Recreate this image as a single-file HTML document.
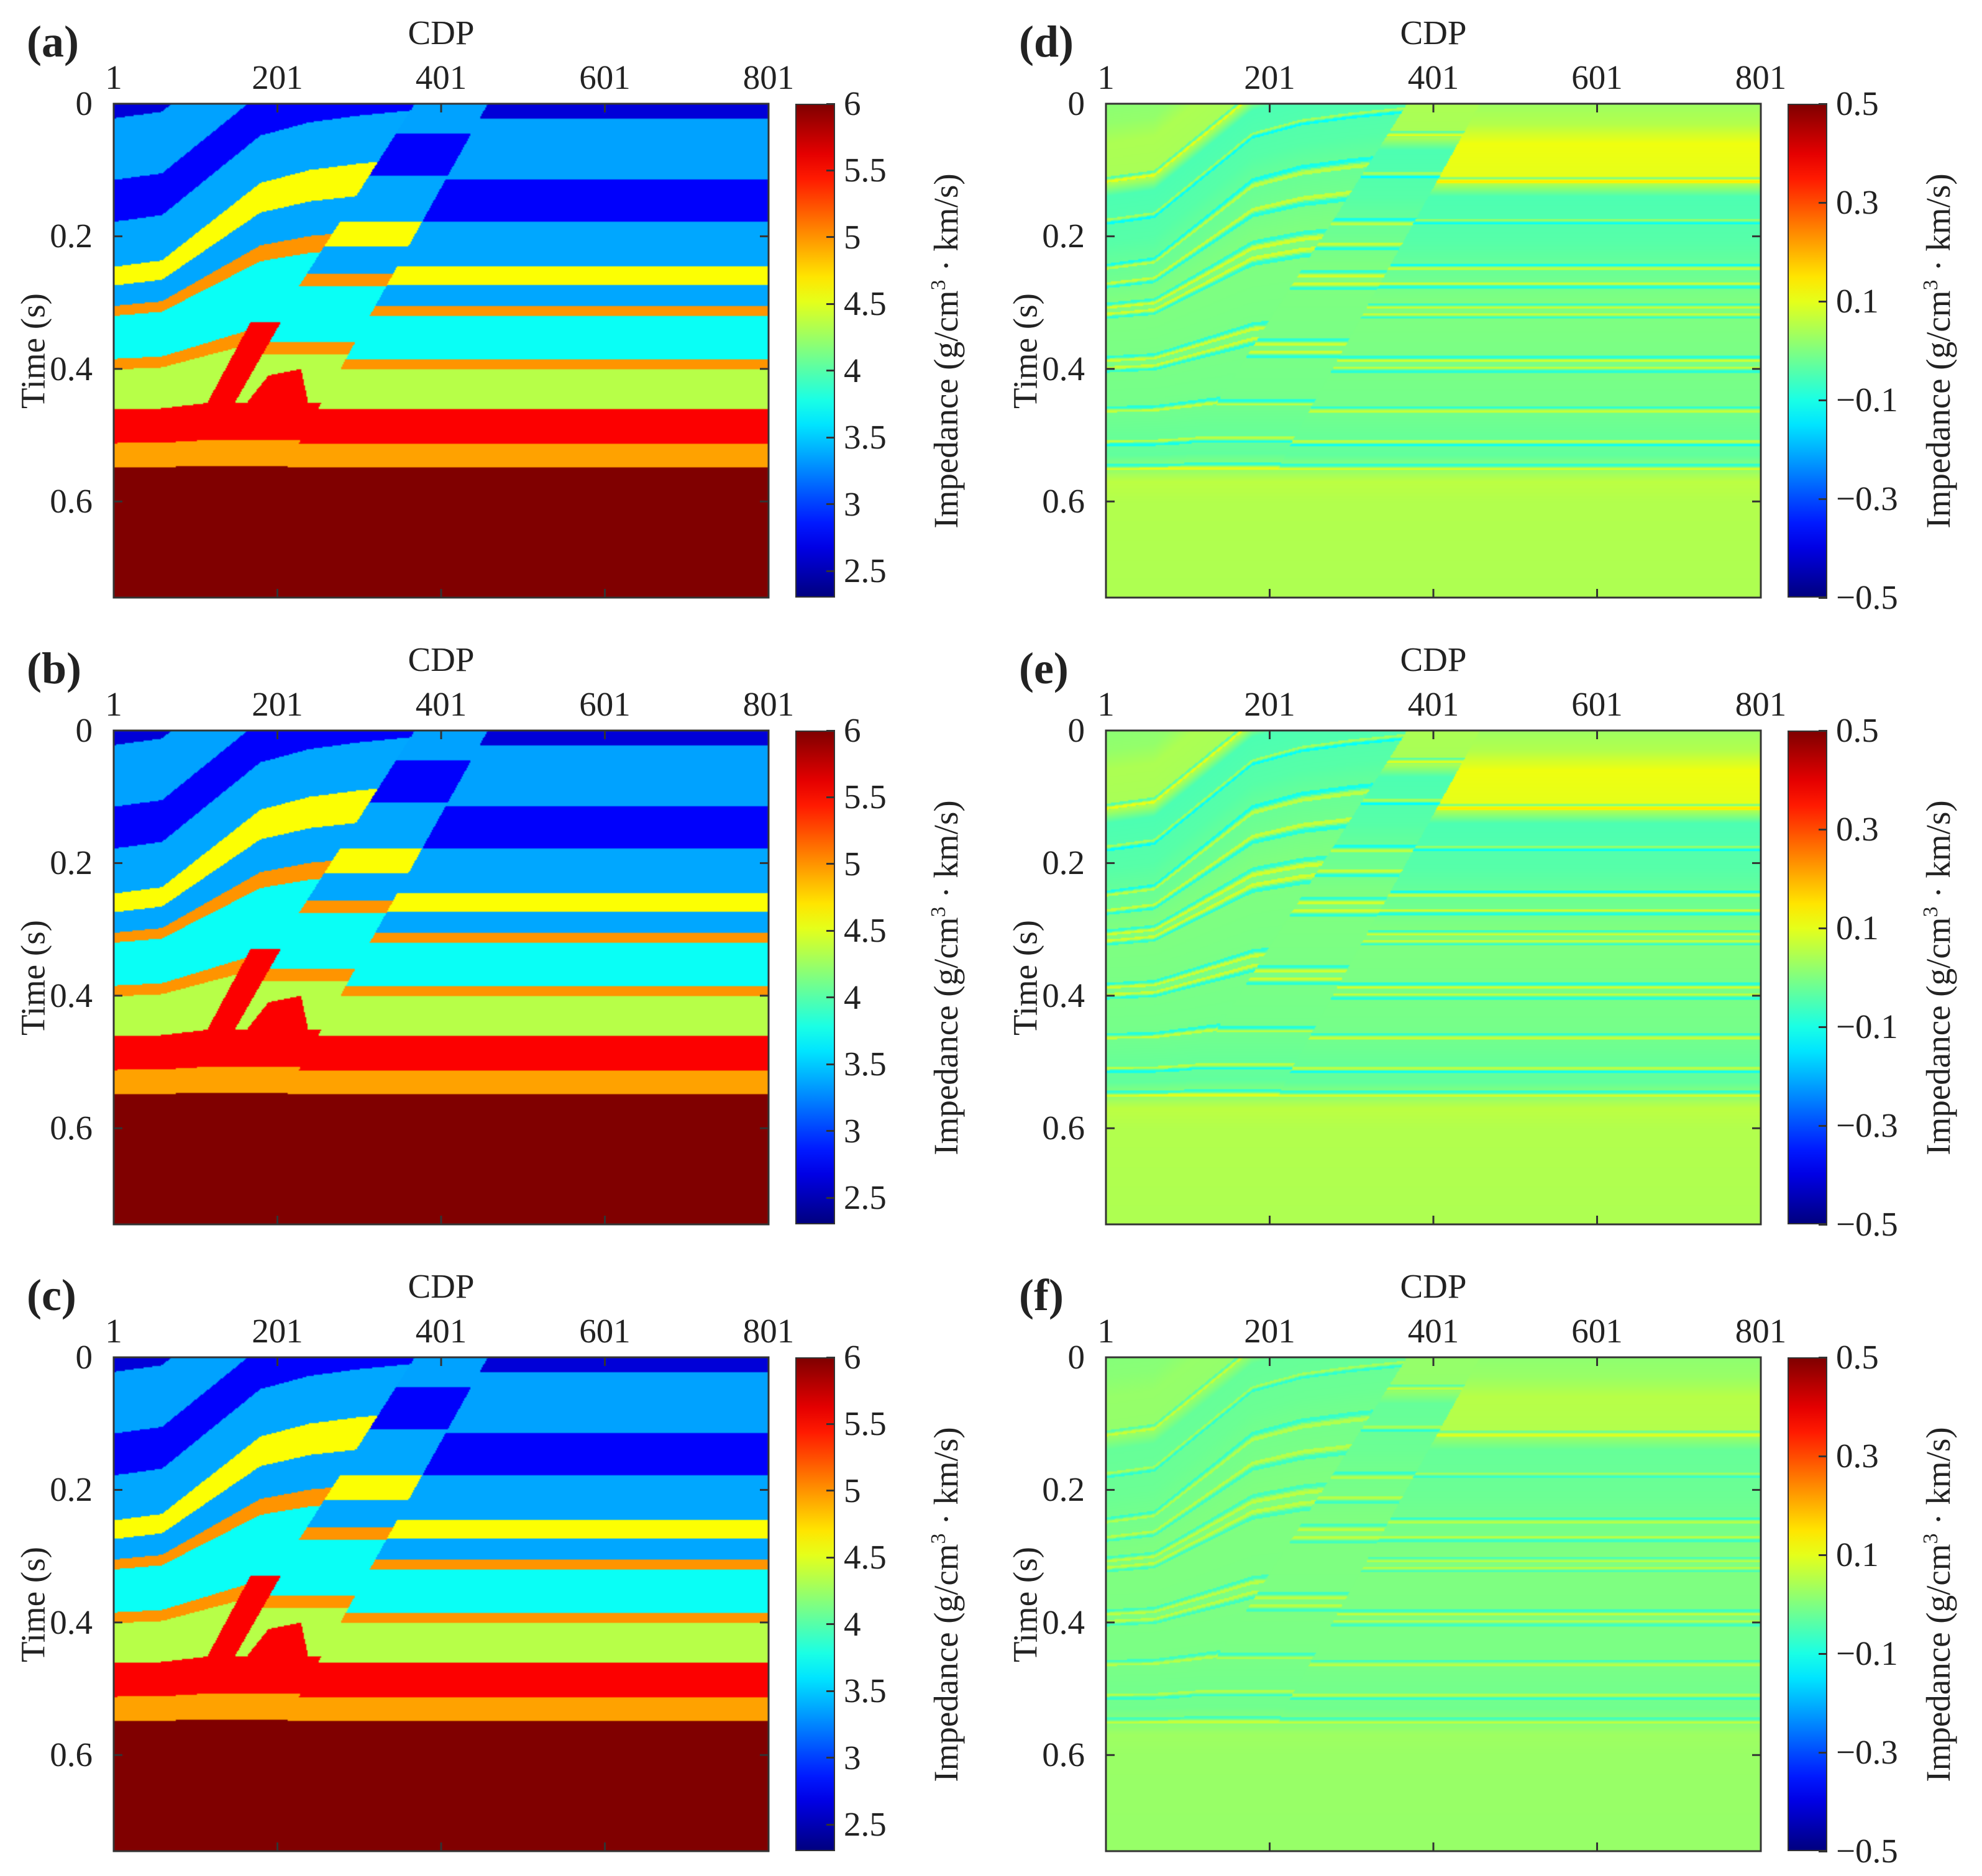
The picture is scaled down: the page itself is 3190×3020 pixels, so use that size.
<!DOCTYPE html>
<html><head><meta charset="utf-8">
<style>
html,body{margin:0;padding:0;background:#fff;}
#root{position:relative;width:3190px;height:3020px;overflow:hidden;background:#fff;font-family:"Liberation Serif",serif;color:#222;}
.t{position:absolute;white-space:nowrap;font-size:55px;line-height:1;}
canvas{position:absolute;}
.cb{position:absolute;border:2px solid #333;box-sizing:border-box;}
</style></head>
<body><div id="root"></div>
<script>
// ---- data ----
const cdpTicks = [1, 201, 401, 601, 801];
const timeTicks = [0, 0.2, 0.4, 0.6];
const timeMax = 0.745;
const impTicks = [2.5, 3, 3.5, 4, 4.5, 5, 5.5, 6];
const impMin = 2.3, impMax = 6;
const resTicks = [-0.5, -0.3, -0.1, 0.1, 0.3, 0.5];
const resMin = -0.5, resMax = 0.5;
// layered impedance model (flat reference block)
const layerTops = [0, 0.022, 0.115, 0.178, 0.246, 0.274, 0.305, 0.32, 0.385, 0.401, 0.461, 0.512, 0.548];
const layerVals = [2.62, 3.35, 2.75, 3.37, 4.6, 3.37, 5.0, 3.72, 5.0, 4.35, 5.55, 4.95, 6.0];
// uplift of footwall block vs CDP
const upCdp = [1, 60, 120, 180, 240, 300, 380];
const upVal = [0, 0.01, 0.07, 0.13, 0.15, 0.16, 0.17];
const midUplift = 0.07;
// uplift scaling vs depth
const depthT = [0, 0.24, 0.36, 0.46, 0.56];
const depthS = [1, 1, 0.45, 0.15, 0];
// faults
const fault1T = [0, 0.513, 0.75], fault1Cdp = [369, 105, 40];
const fault2T = [0, 0.513, 0.75], fault2Cdp = [458, 227, 130];
// red slivers
const sliver1Cdp = [92, 168, 205, 124], sliver1T = [0.505, 0.33, 0.33, 0.505];
const sliver2Cdp = [129, 190, 230, 240, 154], sliver2T = [0.505, 0.41, 0.40, 0.46, 0.505];
// residual background
const resT = [0, 0.03, 0.06, 0.11, 0.14, 0.21, 0.3, 0.45, 0.53, 0.57, 0.6, 0.75];
const resBase = [0.03, 0.05, 0.11, 0.1, -0.05, -0.04, 0.0, -0.01, -0.03, 0.06, 0.05, 0.045];
const resStripe = [0.08, 0.08, 0.06];
const resScale = [1, 1, 0.5];

// ---- helpers ----
function interp(x, xs, ys){
  if (x <= xs[0]) return ys[0];
  for (let i=1;i<xs.length;i++){ if (x <= xs[i]) { const f=(x-xs[i-1])/(xs[i]-xs[i-1]); return ys[i-1]+f*(ys[i]-ys[i-1]); } }
  return ys[ys.length-1];
}
function clamp(v){return v<0?0:v>1?1:v;}
function jet(n){ n=clamp(n); return [clamp(1.5-Math.abs(4*n-3)), clamp(1.5-Math.abs(4*n-2)), clamp(1.5-Math.abs(4*n-1))]; }
function inPoly(x,y,xs,ys){ let c=false; for(let i=0,j=xs.length-1;i<xs.length;j=i++){ if(((ys[i]>y)!=(ys[j]>y)) && (x < (xs[j]-xs[i])*(y-ys[i])/(ys[j]-ys[i])+xs[i])) c=!c; } return c; }
function blockOf(cdp,t){ if (cdp < interp(t,fault1T,fault1Cdp)) return 0; if (cdp < interp(t,fault2T,fault2Cdp)) return 1; return 2; }
function restored(cdp,t){
  const b = blockOf(cdp,t);
  const U = b===0 ? interp(cdp, upCdp, upVal) : (b===1 ? midUplift : 0);
  let tp = t;
  for (let k=0;k<25;k++) tp = t + U*interp(tp, depthT, depthS);
  return [tp,b];
}
function layerIdx(tp){ let k=0; for (let i=0;i<layerTops.length;i++) if (tp>=layerTops[i]) k=i; return k; }
function modelValue(cdp,t){
  const r = restored(cdp,t);
  if (inPoly(cdp,t,sliver1Cdp,sliver1T) || inPoly(cdp,t,sliver2Cdp,sliver2T)) return 5.55;
  return layerVals[layerIdx(r[0])];
}
function residualValue(cdp,t,p){
  const r = restored(cdp,t), tp=r[0];
  let v = interp(r[1]===2 ? t : tp, resT, resBase)*resScale[p];
  if (r[1]!==2 && tp<0.12) v *= 0.4;
  for (let i=2;i<layerTops.length;i++){
    const d=(tp-layerTops[i])/0.003;
    if (Math.abs(d)<1.5) v += (d<0?1:-1)*resStripe[p]*(Math.abs(d)<0.5?0.5:1)*(i%2?1:-1);
  }
  return v;
}

// ---- layout ----
const root = document.getElementById('root');
const PW=1054, PH=795;
const panels = [
  {L:'(a)', x:183, y:167, kind:'model', p:0},
  {L:'(b)', x:183, y:1176, kind:'model', p:1},
  {L:'(c)', x:183, y:2185, kind:'model', p:2},
  {L:'(d)', x:1780, y:167, kind:'res', p:0},
  {L:'(e)', x:1780, y:1176, kind:'res', p:1},
  {L:'(f)', x:1780, y:2185, kind:'res', p:2}
];
const xS = c => (c-1)/800*PW;
const yS = t => t/timeMax*PH;

function txt(s, x, y, name, extra){
  const d=document.createElement('div'); d.className='t'; d.innerHTML=s;
  d.style.left=x+'px'; d.style.top=y+'px';
  if (extra) Object.assign(d.style, extra);
  
  
  root.appendChild(d); return d;
}
function fmt(v){ return v<0 ? '\u2212'+Math.abs(v) : String(v); }

panels.forEach(P=>{
  const id=P.L.replace(/[()]/g,'');
  const cw=527, ch=398;
  const cv=document.createElement('canvas'); cv.width=cw; cv.height=ch;
  cv.style.left=P.x+'px'; cv.style.top=P.y+'px'; cv.style.width=PW+'px'; cv.style.height=PH+'px';
  
  
  root.appendChild(cv);
  const ctx=cv.getContext('2d'); const im=ctx.createImageData(cw,ch);
  for(let j=0;j<ch;j++){ const t=(j+0.5)/ch*timeMax;
    for(let i=0;i<cw;i++){ const c=1+(i+0.5)/cw*800;
      let n;
      if (P.kind==='model') n=(modelValue(c,t)-impMin)/(impMax-impMin);
      else n=(residualValue(c,t,P.p)-resMin)/(resMax-resMin);
      const col=jet(n); const o=(j*cw+i)*4;
      im.data[o]=col[0]*255; im.data[o+1]=col[1]*255; im.data[o+2]=col[2]*255; im.data[o+3]=255;
    }}
  ctx.putImageData(im,0,0);
  const NS='http://www.w3.org/2000/svg';
  const sv=document.createElementNS(NS,'svg');
  sv.setAttribute('width',PW); sv.setAttribute('height',PH);
  sv.style.position='absolute'; sv.style.left=P.x+'px'; sv.style.top=P.y+'px'; sv.style.overflow='visible';
  
  
  const fr=document.createElementNS(NS,'rect');
  fr.setAttribute('x',0); fr.setAttribute('y',0); fr.setAttribute('width',PW); fr.setAttribute('height',PH);
  fr.setAttribute('fill','none'); fr.setAttribute('stroke','#333'); fr.setAttribute('stroke-width',3);
  
  
  sv.appendChild(fr);
  cdpTicks.forEach(c=>{ const x=xS(c);
    [[0,14],[PH,PH-14]].forEach(a=>{ const l=document.createElementNS(NS,'line');
      l.setAttribute('x1',x); l.setAttribute('x2',x); l.setAttribute('y1',a[0]); l.setAttribute('y2',a[1]);
      l.setAttribute('stroke','#333'); l.setAttribute('stroke-width',3);
      
      
      sv.appendChild(l); });
    txt(String(c), P.x+x, P.y-70, 'x-tick-label', {transform:'translateX(-50%)'});
  });
  timeTicks.forEach(t=>{ const y=yS(t);
    [[0,14],[PW,PW-14]].forEach(a=>{ const l=document.createElementNS(NS,'line');
      l.setAttribute('y1',y); l.setAttribute('y2',y); l.setAttribute('x1',a[0]); l.setAttribute('x2',a[1]);
      l.setAttribute('stroke','#333'); l.setAttribute('stroke-width',3);
      
      
      sv.appendChild(l); });
    txt(String(t), P.x-34, P.y+y-28, 'y-tick-label', {transform:'translateX(-100%)'});
  });
  root.appendChild(sv);
  txt(P.L, P.x-140, P.y-136, 'panel-label-'+id, {fontWeight:'bold', fontSize:'72px'});
  txt('CDP', P.x+PW/2, P.y-142, 'x-axis-title', {transform:'translateX(-50%)'});
  txt('Time (s)', P.x-130, P.y+PH/2, 'y-axis-title', {transform:'translate(-50%,-50%) rotate(-90deg)'});
  const cbx=P.x+1097, cbw=64;
  const cb=document.createElement('div'); cb.className='cb';
  cb.style.left=cbx+'px'; cb.style.top=P.y+'px'; cb.style.width=cbw+'px'; cb.style.height=PH+'px';
  let st=[]; for(let k=0;k<=20;k++){ const c=jet(1-k/20); st.push('rgb('+Math.round(c[0]*255)+','+Math.round(c[1]*255)+','+Math.round(c[2]*255)+') '+(k*5)+'%'); }
  cb.style.background='linear-gradient(to bottom,'+st.join(',')+')';
  
  
  root.appendChild(cb);
  const ticks = P.kind==='model'?impTicks:resTicks;
  const lo = P.kind==='model'?impMin:resMin, hi = P.kind==='model'?impMax:resMax;
  ticks.forEach(v=>{ const y=(hi-v)/(hi-lo)*PH;
    const tk=document.createElement('div'); tk.style.position='absolute';
    tk.style.left=(cbx+cbw-14)+'px'; tk.style.top=(P.y+y-1.5)+'px'; tk.style.width='14px'; tk.style.height='3px'; tk.style.background='#333';
    
    
    root.appendChild(tk);
    txt(fmt(v), cbx+78, P.y+y-28, 'colorbar-tick-label');
  });
  txt('Impedance (g/cm<sup style="font-size:34px;vertical-align:20px">3</sup> \u00b7 km/s)', cbx+242, P.y+PH/2, 'colorbar-title', {transform:'translate(-50%,-50%) rotate(-90deg)'});
});
</script>
</body></html>
